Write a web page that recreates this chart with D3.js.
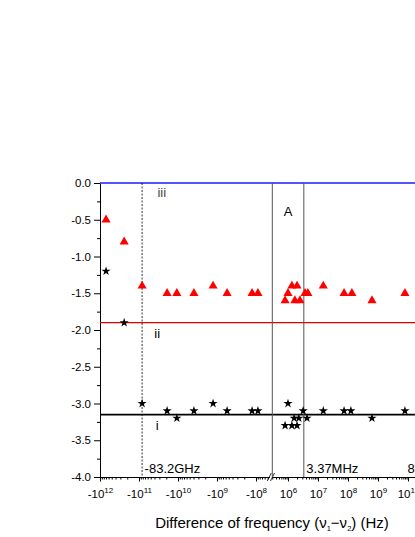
<!DOCTYPE html>
<html><head><meta charset="utf-8">
<script src="https://cdn.jsdelivr.net/npm/d3@7/dist/d3.min.js"></script>
<style>body{margin:0;background:#fff}svg{display:block;font-family:"Liberation Sans",Arial,sans-serif}</style>
</head><body><svg id="c" width="415" height="537"></svg>
<script>
// Series i (stars) : frequency difference (Hz), value
const starFreq = [-7e11,-2.4e11,-8.32e10,-1.9e10,-1.07e10,-3.9e9,-1.26e9,-5.5e8,-1.26e8,-8.9e7,
  8e5,1e6,1.35e6,1.6e6,2e6,2.3e6,3.2e6,4.3e6,1.5e7,7.4e7,1.25e8,6.3e8,7.9e9];
const starVal = [-1.2,-1.9,-3.0,-3.1,-3.2,-3.1,-3.0,-3.1,-3.1,-3.1,
  -3.3,-3.0,-3.3,-3.2,-3.3,-3.2,-3.1,-3.2,-3.1,-3.1,-3.1,-3.2,-3.1];
// Series ii (triangles)
const triFreq = [-7e11,-2.4e11,-8.32e10,-1.9e10,-1.07e10,-3.9e9,-1.26e9,-5.5e8,-1.26e8,-8.9e7,
  8e5,1e6,1.35e6,1.7e6,2e6,2.5e6,3.7e6,4.6e6,1.5e7,7.4e7,1.35e8,6.3e8,7.9e9];
const triVal = [-0.5,-0.8,-1.4,-1.5,-1.5,-1.5,-1.4,-1.5,-1.5,-1.5,
  -1.6,-1.5,-1.4,-1.6,-1.4,-1.6,-1.5,-1.5,-1.4,-1.5,-1.5,-1.6,-1.5];
// Reference levels
const levelNames = ["i","ii","iii"];
const levelVals = [-3.15,-1.9,0.0];
const levelColors = ["#000000","#e00000","#1a1aff"];
// Annotations
const dashedFreq = [-8.32e10];
const regionA = [3e5, 3.37e6];
const annLabels = ["-83.2GHz","3.37MHz","83.2GHz"];
const annFreq = [-8.32e10, 3.37e6, 8.0e9];
// Axis ticks
const yMajor = [0,-0.5,-1,-1.5,-2,-2.5,-3,-3.5,-4];
const negMajorExp = [12,11,10,9,8];
const posMajorExp = [6,7,8,9,10,11,12];
const posLabelExp = [6,7,8,9,10];

const svg = d3.select("#c");
const xNeg = d3.scaleLog().domain([1e12, 4.5e7]).range([100, 269.5]);
const xPos = d3.scaleLog().domain([3e5, 1e12]).range([272.3, 468]);
const X = v => v < 0 ? xNeg(-v) : xPos(v);
const y = d3.scaleLinear().domain([-4, 0]).range([477, 183]);
const Y0 = y(-4);

function minors(lo, hi){ const a=[]; for(let e=Math.floor(Math.log10(lo)); e<=Math.ceil(Math.log10(hi)); e++){ for(let m=2;m<=9;m++){const v=m*Math.pow(10,e); if(v>=lo&&v<=hi) a.push(v);} } return a; }

function styleAxis(g){ g.selectAll("path,line").attr("stroke","#000").attr("stroke-width",1); g.selectAll("text").attr("fill","#000").style("font-family",'"Liberation Sans",Arial,sans-serif'); }

function supLabel(sel, prefix, exps){
  sel.selectAll(".tick").filter(d=>exps.includes(Math.round(Math.log10(d))))
    .append("text").attr("y",21).attr("text-anchor","middle").attr("font-size",11.5).attr("fill","#000")
    .each(function(d){ const t=d3.select(this); t.append("tspan").text(prefix+"10"); t.append("tspan").attr("font-size",8).attr("dy",-5).text(Math.round(Math.log10(d))); });
}

// x axis negative side
const gN = svg.append("g").attr("transform",`translate(0,${Y0})`)
  .call(d3.axisBottom(xNeg).tickValues(minors(4.5e7,1e12)).tickSize(2.5).tickSizeOuter(0).tickFormat(""));
styleAxis(gN);
const gNM = svg.append("g").attr("transform",`translate(0,${Y0})`)
  .call(d3.axisBottom(xNeg).tickValues(negMajorExp.map(e=>Math.pow(10,e))).tickSize(4.5).tickSizeOuter(0).tickFormat(""));
styleAxis(gNM); gNM.select(".domain").remove();
supLabel(gNM, "-", negMajorExp);

// x axis positive side
const gP = svg.append("g").attr("transform",`translate(0,${Y0})`)
  .call(d3.axisBottom(xPos).tickValues(minors(3e5,1e12)).tickSize(2.5).tickSizeOuter(0).tickFormat(""));
styleAxis(gP);
const gPM = svg.append("g").attr("transform",`translate(0,${Y0})`)
  .call(d3.axisBottom(xPos).tickValues(posMajorExp.map(e=>Math.pow(10,e))).tickSize(4.5).tickSizeOuter(0).tickFormat(""));
styleAxis(gPM); gPM.select(".domain").remove();
supLabel(gPM, "", posLabelExp);

// break marks
const bx = (xNeg.range()[1] + xPos.range()[0]) / 2;
[-1.6, 1.6].forEach(o => svg.append("line").attr("x1",bx+o-2).attr("y1",Y0+4).attr("x2",bx+o+2).attr("y2",Y0-4).attr("stroke","#000").attr("stroke-width",0.8));

// y axis
const gY = svg.append("g").attr("transform","translate(100,0)")
  .call(d3.axisLeft(y).tickValues(yMajor).tickSize(6).tickSizeOuter(0).tickPadding(3).tickFormat(d=>d.toFixed(1)));
styleAxis(gY); gY.selectAll("text").attr("font-size",11.5);
const gYm = svg.append("g").attr("transform","translate(100,0)")
  .call(d3.axisLeft(y).tickValues(d3.range(-3.75,0,0.5)).tickSize(3).tickSizeOuter(0).tickFormat(""));
styleAxis(gYm); gYm.select(".domain").remove();

// level lines
levelVals.forEach((v,i)=>{
  svg.append("line").attr("x1",100).attr("x2",470).attr("y1",y(v)).attr("y2",y(v))
    .attr("stroke",levelColors[i]).attr("stroke-width",i===1?1.3:1.7);
});
const levelLabelFreq = [-3.4e10,-3.4e10,-2.6e10];
levelNames.forEach((n,i)=>{
  svg.append("text").attr("x",X(levelLabelFreq[i])).attr("y",y(levelVals[i])+(i===2?14:15))
    .attr("font-size",13).attr("fill",i===2?"#444":"#000").attr("text-anchor","middle").text(n);
});

// dashed line
dashedFreq.forEach(f=>svg.append("line").attr("x1",X(f)).attr("x2",X(f)).attr("y1",y(0)).attr("y2",Y0)
  .attr("stroke","#000").attr("stroke-width",0.8).attr("stroke-dasharray","2,1.5"));
// region A lines
regionA.forEach(f=>svg.append("line").attr("x1",X(f)).attr("x2",X(f)).attr("y1",y(0)).attr("y2",Y0)
  .attr("stroke","#555").attr("stroke-width",1));
svg.append("text").attr("x",(X(regionA[0])+X(regionA[1]))/2).attr("y",y(-0.45)).attr("text-anchor","middle")
  .attr("font-size",13).attr("fill","#000").text("A");

// annotation labels
annLabels.forEach((t,i)=>svg.append("text").attr("x",X(annFreq[i])+2.5).attr("y",Y0-4).attr("font-size",13).attr("fill","#000").text(t));

// markers
svg.append("g").selectAll("path").data(triFreq.map((f,i)=>[f,triVal[i]])).join("path")
  .attr("transform",d=>`translate(${X(d[0])},${y(d[1])})`)
  .attr("d",d3.symbol(d3.symbolTriangle,36)).attr("fill","#ff0000");
svg.append("g").selectAll("path").data(starFreq.map((f,i)=>[f,starVal[i]])).join("path")
  .attr("transform",d=>`translate(${X(d[0])},${y(d[1])})`)
  .attr("d",d3.symbol(d3.symbolStar,26)).attr("fill","#000");

// axis title
const tt = svg.append("text").attr("x",272).attr("y",528).attr("text-anchor","middle").attr("font-size",15).attr("fill","#000");
tt.append("tspan").text("Difference of frequency (ν");
tt.append("tspan").attr("font-size",7.5).attr("dy",3).text("1");
tt.append("tspan").attr("dy",-3).text("−ν");
tt.append("tspan").attr("font-size",7.5).attr("dy",3).text("2");
tt.append("tspan").attr("dy",-3).text(") (Hz)");
</script></body></html>
